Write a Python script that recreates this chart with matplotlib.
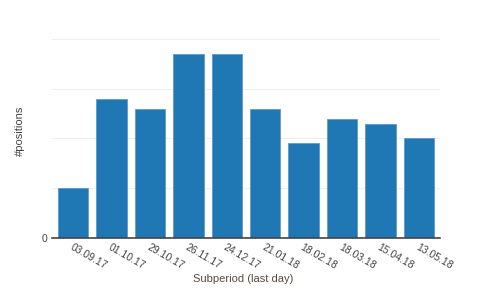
import matplotlib
matplotlib.use("Agg")
import matplotlib.pyplot as plt
import numpy as np

plt.rcParams["font.family"] = ["Liberation Sans", "DejaVu Sans"]

categories = ["03.09.17", "01.10.17", "29.10.17", "26.11.17", "24.12.17",
              "21.01.18", "18.02.18", "18.03.18", "15.04.18", "13.05.18"]
values = [10, 28, 26, 37, 37, 26, 19, 24, 23, 20]
ytick_vals = [0, 10, 20, 30, 40]
ytick_labels = ["0", "", "", "", ""]

fig = plt.figure(figsize=(4.86, 2.92), dpi=100)
ax = fig.add_axes([52/486, 54/292, (440-52)/486, (238-20)/292])

x = np.arange(len(categories))
ax.bar(x, values, width=0.79, color="#1f77b4", edgecolor="#5b9bd0", linewidth=0.6, zorder=3)

ax.set_xlim(-0.55, len(categories) - 0.45)
ax.set_ylim(0, 43.8)
ax.set_yticks(ytick_vals)
ax.set_yticklabels(ytick_labels)
ax.grid(axis="y", color="#eeeeee", linewidth=0.8, zorder=0)
ax.tick_params(axis="y", length=0, labelsize=7.5, labelcolor="#444444", pad=3)
ax.set_xticks(x)
ax.set_xticklabels(categories, rotation=-30, ha="left", va="top",
                   rotation_mode="anchor", fontsize=7.5, color="#444444")
ax.tick_params(axis="x", length=0, pad=3)
for s in ["top", "right", "left"]:
    ax.spines[s].set_visible(False)
ax.spines["bottom"].set_color("#444444")
ax.spines["bottom"].set_linewidth(1.2)
ax.spines["bottom"].set_zorder(4)

fig.text(20/486, 1 - 131/292, "#positions", rotation=90, ha="center", va="center",
         fontsize=8, color="#444444")
fig.text(243/486, 1 - 279/292, "Subperiod (last day)", ha="center", va="center",
         fontsize=8, color="#5a4a3a")

fig.savefig("out.png", dpi=100)
